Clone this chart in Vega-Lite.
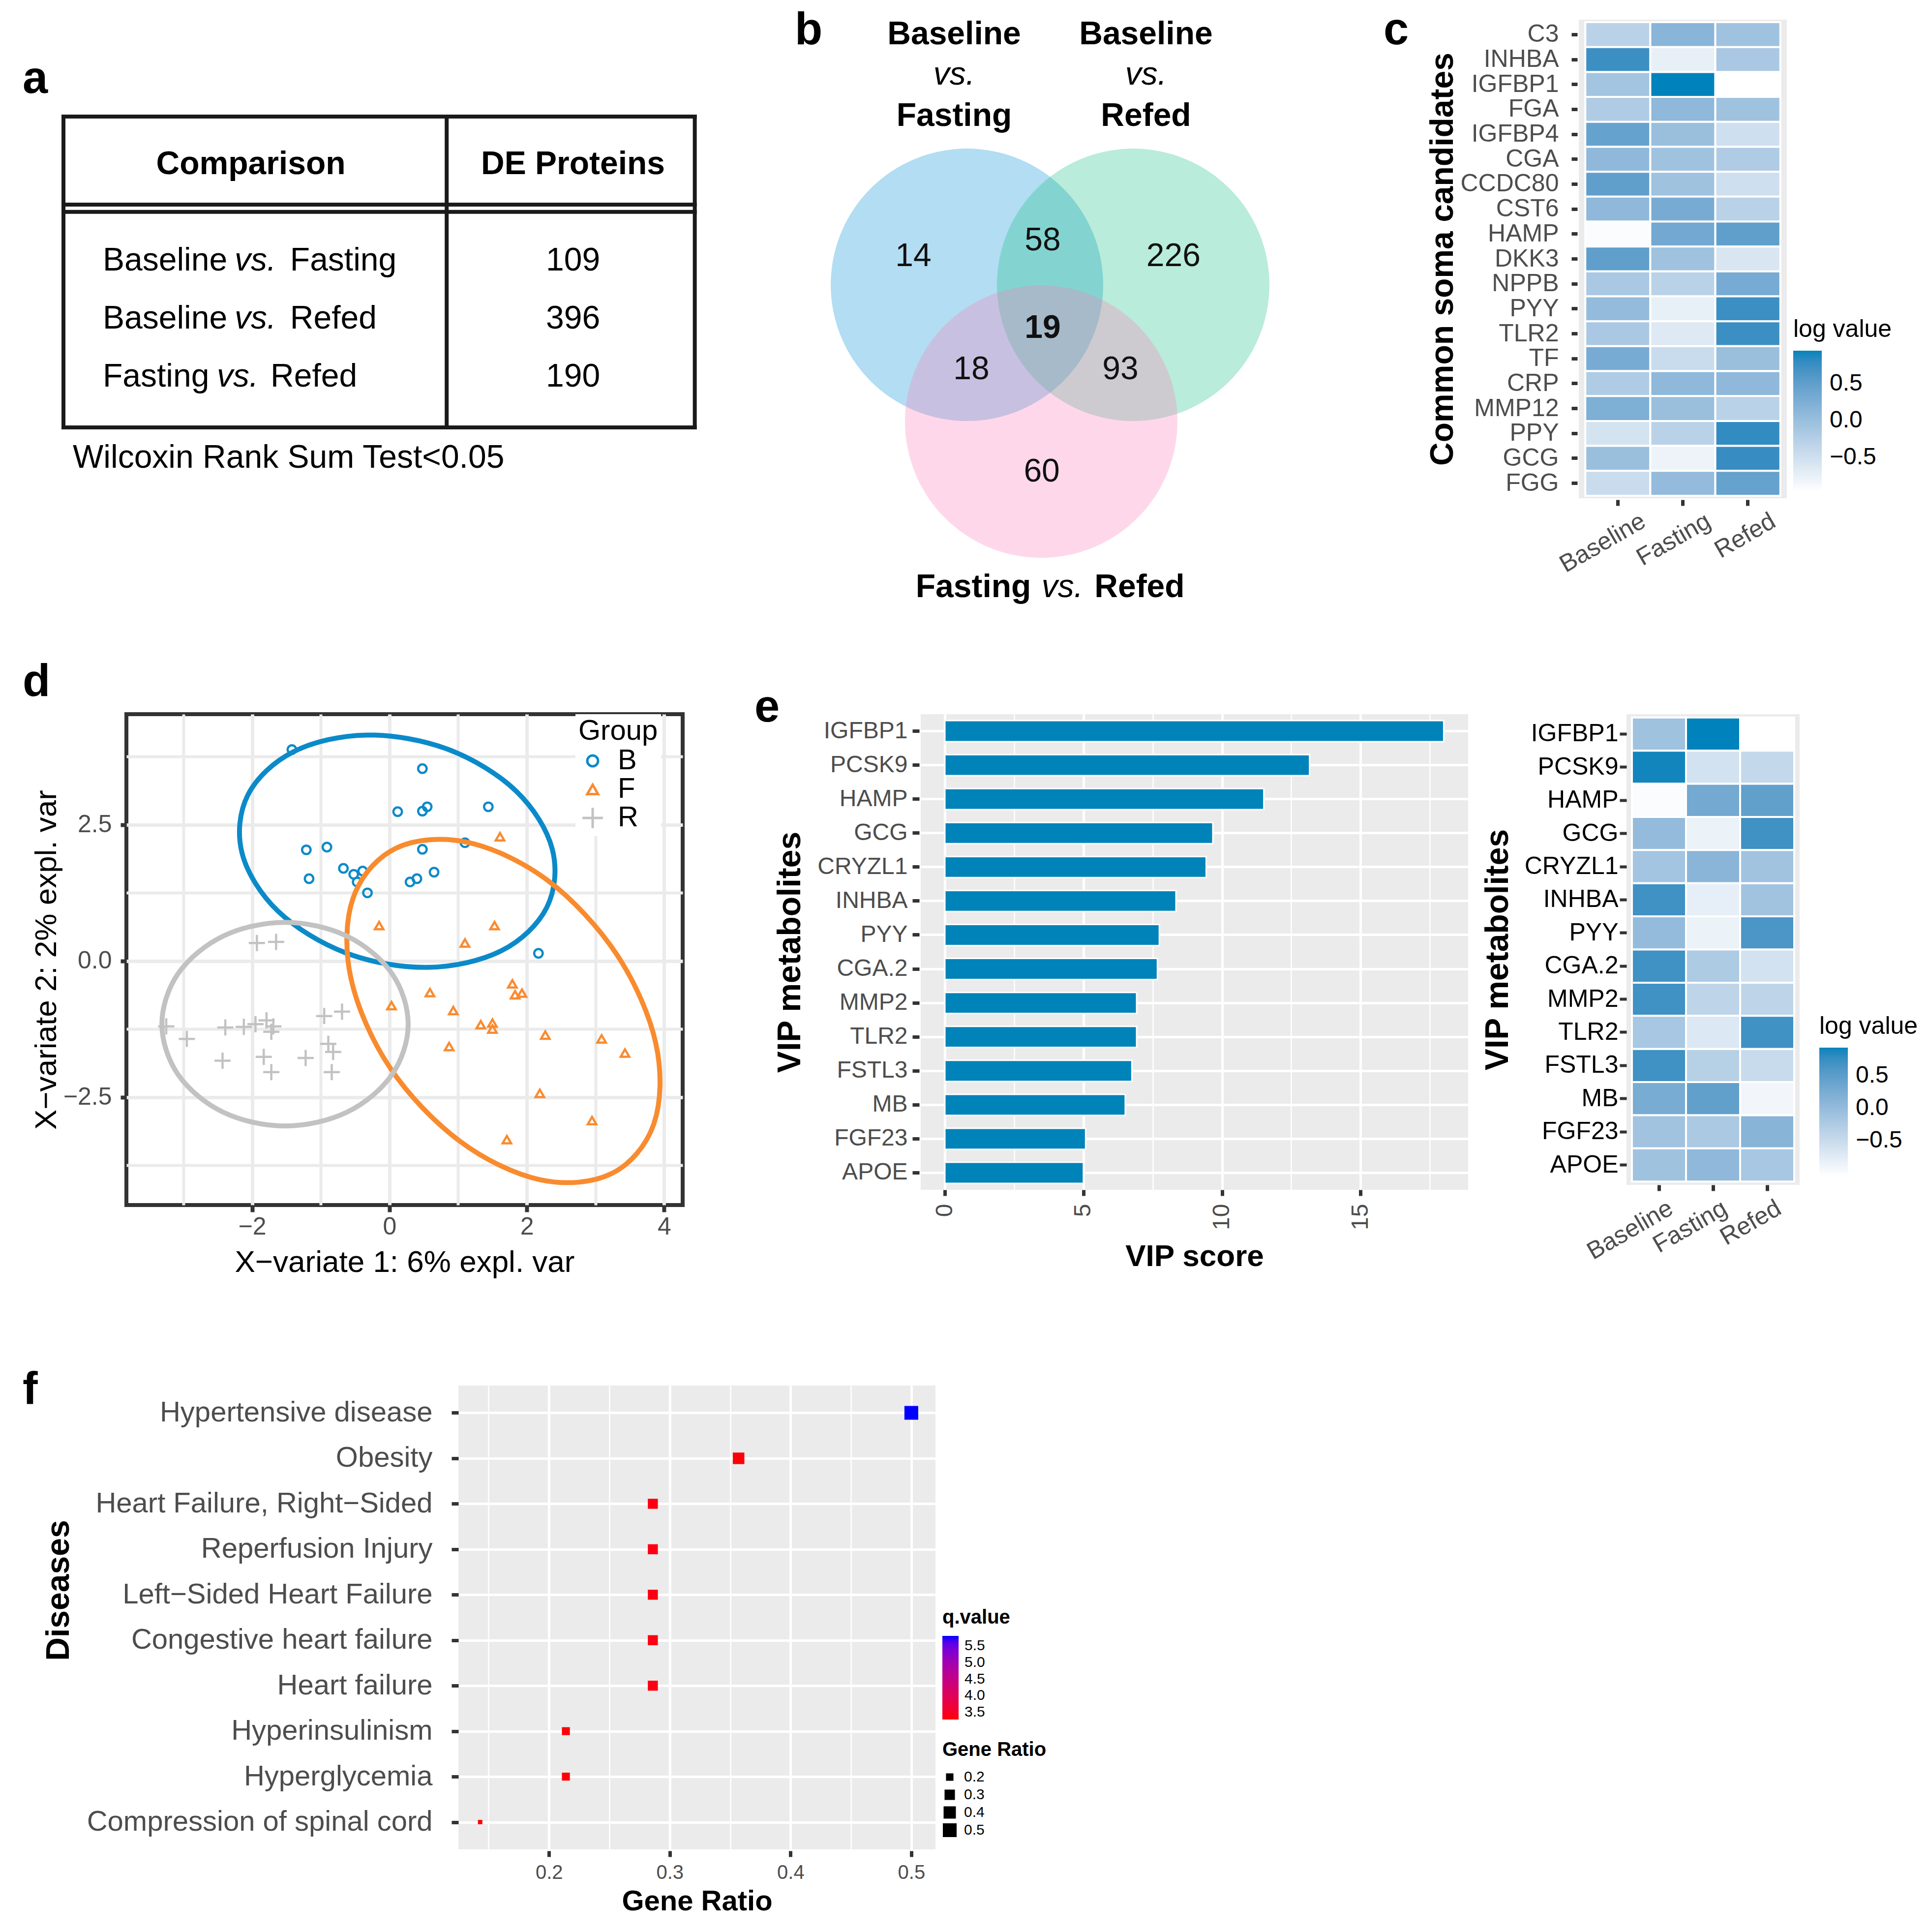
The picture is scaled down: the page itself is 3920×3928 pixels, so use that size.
{
  "$schema": "https://vega.github.io/schema/vega-lite/v6.json",
  "background": "white",
  "padding": {"left": 42, "top": 16, "right": 10, "bottom": 10},
  "config": {
    "font": "Liberation Sans",
    "view": {"stroke": null},
    "axis": {"domain": false, "tickColor": "#333333", "labelColor": "#4D4D4D", "titleColor": "#000000", "grid": false, "labelOverlap": false, "labelFlush": false, "labelLimit": 1000, "titleLimit": 2000},
    "legend": {"labelColor": "#000000", "titleColor": "#000000", "labelLimit": 1000, "titleLimit": 1000},
    "title": {"color": "#000000"}
  },
  "spacing": 179,
  "resolve": {"scale": {"x": "independent", "y": "independent", "color": "independent", "shape": "independent", "size": "independent", "stroke": "independent"}},
  "vconcat": [
    {
      "spacing": 109,
      "resolve": {"scale": {"x": "independent", "y": "independent", "color": "independent", "shape": "independent", "size": "independent", "stroke": "independent"}},
      "vconcat": [
        {
          "spacing": 20,
          "bounds": "flush",
          "resolve": {"scale": {"x": "independent", "y": "independent", "color": "independent", "shape": "independent", "size": "independent", "stroke": "independent"}},
          "hconcat": [
            {
              "width": 1160,
              "height": 973,
              "layer": [
                {
                  "data": {"values": [
                    {"x1": 0, "x2": 100, "y1": -1.483, "y2": -1.483},
                    {"x1": 0, "x2": 100, "y1": 3.873, "y2": 3.873},
                    {"x1": 0, "x2": 0, "y1": -1.483, "y2": 3.873},
                    {"x1": 100, "x2": 100, "y1": -1.483, "y2": 3.873},
                    {"x1": 60.7, "x2": 60.7, "y1": -1.483, "y2": 3.873},
                    {"x1": 0, "x2": 100, "y1": 0.034, "y2": 0.034},
                    {"x1": 0, "x2": 100, "y1": 0.158, "y2": 0.158}
                  ]},
                  "mark": {"type": "rule", "strokeWidth": 8, "color": "#1A1A1A", "strokeCap": "square"},
                  "encoding": {
                    "x": {"field": "x1", "type": "quantitative", "scale": {"domain": [9.97, 100.34], "nice": false, "zero": false}, "axis": null},
                    "x2": {"field": "x2"},
                    "y": {"field": "y1", "type": "quantitative", "scale": {"domain": [-3.153, 5.093], "nice": false, "zero": false, "reverse": true}, "axis": null},
                    "y2": {"field": "y2"}
                  }
                },
                {
                  "data": {"values": [{"h": "Comparison", "hx": 29.68}, {"h": "DE Proteins", "hx": 80.71}]},
                  "mark": {"type": "text", "fontSize": 66, "fontWeight": "bold", "align": "center", "baseline": "middle", "color": "#000000"},
                  "encoding": {
                    "x": {"field": "hx", "type": "quantitative", "scale": {"domain": [9.97, 100.34], "nice": false, "zero": false}, "axis": null},
                    "y": {"datum": -0.661, "type": "quantitative", "scale": {"domain": [-3.153, 5.093], "nice": false, "zero": false, "reverse": true}, "axis": null},
                    "text": {"field": "h"}
                  }
                },
                {
                  "data": {"values": [
                    {"row": 1, "first": "Baseline", "second": "Fasting", "n": 109},
                    {"row": 2, "first": "Baseline", "second": "Refed", "n": 396},
                    {"row": 3, "first": "Fasting", "second": "Refed", "n": 190}
                  ]},
                  "layer": [
                    {
                      "mark": {"type": "text", "fontSize": 66, "align": "left", "baseline": "middle", "color": "#000000"},
                      "encoding": {
                        "x": {"datum": 6.23, "type": "quantitative", "scale": {"domain": [9.97, 100.34], "nice": false, "zero": false}, "axis": null},
                        "y": {"field": "row", "type": "quantitative", "scale": {"domain": [-3.153, 5.093], "nice": false, "zero": false, "reverse": true}, "axis": null},
                        "text": {"field": "first"}
                      }
                    },
                    {
                      "transform": [{"filter": "datum.first === 'Baseline'"}],
                      "mark": {"type": "text", "fontSize": 66, "fontStyle": "italic", "align": "left", "baseline": "middle", "color": "#000000"},
                      "encoding": {
                        "x": {"datum": 27.1, "type": "quantitative", "scale": {"domain": [9.97, 100.34], "nice": false, "zero": false}, "axis": null},
                        "y": {"field": "row", "type": "quantitative", "scale": {"domain": [-3.153, 5.093], "nice": false, "zero": false, "reverse": true}, "axis": null},
                        "text": {"value": "vs."}
                      }
                    },
                    {
                      "transform": [{"filter": "datum.first === 'Baseline'"}],
                      "mark": {"type": "text", "fontSize": 66, "align": "left", "baseline": "middle", "color": "#000000"},
                      "encoding": {
                        "x": {"datum": 35.9, "type": "quantitative", "scale": {"domain": [9.97, 100.34], "nice": false, "zero": false}, "axis": null},
                        "y": {"field": "row", "type": "quantitative", "scale": {"domain": [-3.153, 5.093], "nice": false, "zero": false, "reverse": true}, "axis": null},
                        "text": {"field": "second"}
                      }
                    },
                    {
                      "transform": [{"filter": "datum.first === 'Fasting'"}],
                      "mark": {"type": "text", "fontSize": 66, "fontStyle": "italic", "align": "left", "baseline": "middle", "color": "#000000"},
                      "encoding": {
                        "x": {"datum": 24.3, "type": "quantitative", "scale": {"domain": [9.97, 100.34], "nice": false, "zero": false}, "axis": null},
                        "y": {"field": "row", "type": "quantitative", "scale": {"domain": [-3.153, 5.093], "nice": false, "zero": false, "reverse": true}, "axis": null},
                        "text": {"value": "vs."}
                      }
                    },
                    {
                      "transform": [{"filter": "datum.first === 'Fasting'"}],
                      "mark": {"type": "text", "fontSize": 66, "align": "left", "baseline": "middle", "color": "#000000"},
                      "encoding": {
                        "x": {"datum": 32.8, "type": "quantitative", "scale": {"domain": [9.97, 100.34], "nice": false, "zero": false}, "axis": null},
                        "y": {"field": "row", "type": "quantitative", "scale": {"domain": [-3.153, 5.093], "nice": false, "zero": false, "reverse": true}, "axis": null},
                        "text": {"field": "second"}
                      }
                    },
                    {
                      "mark": {"type": "text", "fontSize": 66, "align": "center", "baseline": "middle", "color": "#000000"},
                      "encoding": {
                        "x": {"datum": 80.71, "type": "quantitative", "scale": {"domain": [9.97, 100.34], "nice": false, "zero": false}, "axis": null},
                        "y": {"field": "row", "type": "quantitative", "scale": {"domain": [-3.153, 5.093], "nice": false, "zero": false, "reverse": true}, "axis": null},
                        "text": {"field": "n"}
                      }
                    }
                  ]
                },
                {
                  "data": {"values": [{"note": "Wilcoxin Rank Sum Test<0.05"}]},
                  "mark": {"type": "text", "fontSize": 66, "align": "left", "baseline": "middle", "color": "#000000"},
                  "encoding": {
                    "x": {"datum": 1.48, "type": "quantitative", "scale": {"domain": [9.97, 100.34], "nice": false, "zero": false}, "axis": null},
                    "y": {"datum": 4.398, "type": "quantitative", "scale": {"domain": [-3.153, 5.093], "nice": false, "zero": false, "reverse": true}, "axis": null},
                    "text": {"field": "note"}
                  }
                },
                {
                  "data": {"values": [{"letter": "a"}]},
                  "mark": {"type": "text", "fontSize": 92, "fontWeight": "bold", "align": "left", "baseline": "alphabetic", "color": "#000000"},
                  "encoding": {
                    "x": {"datum": -6.466, "type": "quantitative", "scale": {"domain": [9.97, 100.34], "nice": false, "zero": false}, "axis": null},
                    "y": {"datum": -1.89, "type": "quantitative", "scale": {"domain": [-3.153, 5.093], "nice": false, "zero": false, "reverse": true}, "axis": null},
                    "text": {"field": "letter"}
                  }
                }
              ]
            },
            {
              "width": 1753,
              "height": 1036,
              "layer": [
                {
                  "data": {"values": [
                    {"set": "Baseline vs. Fasting", "u": 0, "v": 0},
                    {"set": "Baseline vs. Refed", "u": 1.22, "v": 0},
                    {"set": "Fasting vs. Refed", "u": 0.545, "v": -1.004}
                  ]},
                  "mark": {"type": "point", "shape": "circle", "filled": true, "size": 306900, "opacity": 0.3, "strokeWidth": 0},
                  "encoding": {
                    "x": {"field": "u", "type": "quantitative", "scale": {"domain": [-1.91, 4.419], "nice": false, "zero": false}, "axis": null},
                    "y": {"field": "v", "type": "quantitative", "scale": {"domain": [-1.794, 1.946], "nice": false, "zero": false}, "axis": null},
                    "color": {"field": "set", "type": "nominal", "scale": {"domain": ["Baseline vs. Fasting", "Baseline vs. Refed", "Fasting vs. Refed"], "range": ["#008ED4", "#16C084", "#FC7DB9"]}, "legend": null}
                  }
                },
                {
                  "data": {"values": [
                    {"n": 14, "u": -0.394, "v": 0.209},
                    {"n": 58, "u": 0.556, "v": 0.325},
                    {"n": 226, "u": 1.516, "v": 0.209},
                    {"n": 19, "u": 0.556, "v": -0.318},
                    {"n": 18, "u": 0.032, "v": -0.621},
                    {"n": 93, "u": 1.126, "v": -0.621},
                    {"n": 60, "u": 0.549, "v": -1.372}
                  ]},
                  "layer": [
                    {
                      "transform": [{"filter": "datum.n !== 19"}],
                      "mark": {"type": "text", "fontSize": 66, "align": "center", "baseline": "middle", "color": "#111111"},
                      "encoding": {
                        "x": {"field": "u", "type": "quantitative", "scale": {"domain": [-1.91, 4.419], "nice": false, "zero": false}, "axis": null},
                        "y": {"field": "v", "type": "quantitative", "scale": {"domain": [-1.794, 1.946], "nice": false, "zero": false}, "axis": null},
                        "text": {"field": "n"}
                      }
                    },
                    {
                      "transform": [{"filter": "datum.n === 19"}],
                      "mark": {"type": "text", "fontSize": 66, "fontWeight": "bold", "align": "center", "baseline": "middle", "color": "#111111"},
                      "encoding": {
                        "x": {"field": "u", "type": "quantitative", "scale": {"domain": [-1.91, 4.419], "nice": false, "zero": false}, "axis": null},
                        "y": {"field": "v", "type": "quantitative", "scale": {"domain": [-1.794, 1.946], "nice": false, "zero": false}, "axis": null},
                        "text": {"field": "n"}
                      }
                    }
                  ]
                },
                {
                  "data": {"values": [
                    {"t": "Baseline", "u": -0.094, "v": 1.838},
                    {"t": "Fasting", "u": -0.094, "v": 1.238},
                    {"t": "Baseline", "u": 1.314, "v": 1.838},
                    {"t": "Refed", "u": 1.314, "v": 1.238},
                    {"t": "Fasting", "u": 0.047, "v": -2.22},
                    {"t": "Refed", "u": 1.267, "v": -2.22}
                  ]},
                  "mark": {"type": "text", "fontSize": 66, "fontWeight": "bold", "align": "center", "baseline": "middle", "color": "#000000"},
                  "encoding": {
                    "x": {"field": "u", "type": "quantitative", "scale": {"domain": [-1.91, 4.419], "nice": false, "zero": false}, "axis": null},
                    "y": {"field": "v", "type": "quantitative", "scale": {"domain": [-1.794, 1.946], "nice": false, "zero": false}, "axis": null},
                    "text": {"field": "t"}
                  }
                },
                {
                  "data": {"values": [
                    {"t": "vs.", "u": -0.094, "v": 1.542},
                    {"t": "vs.", "u": 1.314, "v": 1.542},
                    {"t": "vs.", "u": 0.7, "v": -2.22}
                  ]},
                  "mark": {"type": "text", "fontSize": 66, "fontStyle": "italic", "align": "center", "baseline": "middle", "color": "#000000"},
                  "encoding": {
                    "x": {"field": "u", "type": "quantitative", "scale": {"domain": [-1.91, 4.419], "nice": false, "zero": false}, "axis": null},
                    "y": {"field": "v", "type": "quantitative", "scale": {"domain": [-1.794, 1.946], "nice": false, "zero": false}, "axis": null},
                    "text": {"field": "t"}
                  }
                },
                {
                  "data": {"values": [{"letter": "b"}]},
                  "mark": {"type": "text", "fontSize": 92, "fontWeight": "bold", "align": "left", "baseline": "alphabetic", "color": "#000000"},
                  "encoding": {
                    "x": {"datum": -1.264, "type": "quantitative", "scale": {"domain": [-1.91, 4.419], "nice": false, "zero": false}, "axis": null},
                    "y": {"datum": 1.765, "type": "quantitative", "scale": {"domain": [-1.794, 1.946], "nice": false, "zero": false}, "axis": null},
                    "text": {"field": "letter"}
                  }
                }
              ]
            },
            {
              "width": 423,
              "height": 973,
              "view": {"fill": "#EBEBEB", "stroke": null},
              "title": {"text": "c", "anchor": "start", "frame": "group", "orient": "top", "fontSize": 92, "fontWeight": "bold", "baseline": "alphabetic", "offset": 0, "dx": -397, "dy": 142},
              "data": {"values": [
                {"gene": "C3", "Baseline": -0.3, "Fasting": 0.15, "Refed": -0.05},
                {"gene": "INHBA", "Baseline": 0.75, "Fasting": -0.75, "Refed": -0.15},
                {"gene": "IGFBP1", "Baseline": -0.1, "Fasting": 0.95, "Refed": -0.97},
                {"gene": "FGA", "Baseline": -0.2, "Fasting": 0.1, "Refed": -0.05},
                {"gene": "IGFBP4", "Baseline": 0.45, "Fasting": 0.0, "Refed": -0.5},
                {"gene": "CGA", "Baseline": 0.1, "Fasting": -0.05, "Refed": -0.2},
                {"gene": "CCDC80", "Baseline": 0.5, "Fasting": -0.05, "Refed": -0.5},
                {"gene": "CST6", "Baseline": 0.1, "Fasting": 0.3, "Refed": -0.3},
                {"gene": "HAMP", "Baseline": -0.92, "Fasting": 0.35, "Refed": 0.5},
                {"gene": "DKK3", "Baseline": 0.5, "Fasting": -0.05, "Refed": -0.6},
                {"gene": "NPPB", "Baseline": -0.15, "Fasting": -0.3, "Refed": 0.3},
                {"gene": "PYY", "Baseline": 0.05, "Fasting": -0.75, "Refed": 0.75},
                {"gene": "TLR2", "Baseline": -0.15, "Fasting": -0.65, "Refed": 0.75},
                {"gene": "TF", "Baseline": 0.3, "Fasting": -0.45, "Refed": 0.0},
                {"gene": "CRP", "Baseline": -0.2, "Fasting": 0.1, "Refed": 0.1},
                {"gene": "MMP12", "Baseline": 0.25, "Fasting": 0.0, "Refed": -0.3},
                {"gene": "PPY", "Baseline": -0.55, "Fasting": -0.3, "Refed": 0.8},
                {"gene": "GCG", "Baseline": 0.0, "Fasting": -0.8, "Refed": 0.78},
                {"gene": "FGG", "Baseline": -0.45, "Fasting": 0.05, "Refed": 0.45}
              ]},
              "transform": [{"fold": ["Baseline", "Fasting", "Refed"], "as": ["group", "value"]}],
              "mark": {"type": "rect", "stroke": "white", "strokeWidth": 4},
              "encoding": {
                "x": {"field": "group", "type": "nominal", "sort": ["Baseline", "Fasting", "Refed"], "scale": {"paddingInner": 0, "paddingOuter": 0.1},
                  "axis": {"title": null, "labelAngle": -30, "labelAlign": "right", "labelBaseline": "top", "labelFontSize": 50, "labelPadding": 6, "labelOffset": 40, "tickSize": 12, "tickWidth": 7, "offset": 3}},
                "y": {"field": "gene", "type": "nominal", "sort": ["C3", "INHBA", "IGFBP1", "FGA", "IGFBP4", "CGA", "CCDC80", "CST6", "HAMP", "DKK3", "NPPB", "PYY", "TLR2", "TF", "CRP", "MMP12", "PPY", "GCG", "FGG"], "scale": {"paddingInner": 0, "paddingOuter": 0.1},
                  "axis": {"title": "Common soma candidates", "titleFontSize": 66, "titleFontWeight": "bold", "titlePadding": 40, "labelFontSize": 50, "labelPadding": 26, "tickSize": 12, "tickWidth": 7, "offset": 3}},
                "color": {"field": "value", "type": "quantitative", "scale": {"domain": [-0.97, 0.95], "range": ["#FFFFFF", "#0083BC"], "interpolate": "lab"},
                  "legend": {"title": "log value", "orient": "none", "legendX": 436, "legendY": 605, "direction": "vertical", "gradientLength": 287, "gradientThickness": 58, "values": [-0.5, 0, 0.5], "format": ".1f", "labelFontSize": 48, "titleFontSize": 50, "titleFontWeight": "normal", "titlePadding": 18, "labelOffset": 16, "gradientStrokeWidth": 0}}
              }
            }
          ]
        },
        {
          "spacing": 484,
          "bounds": "flush",
          "resolve": {"scale": {"x": "independent", "y": "independent", "color": "independent", "shape": "independent", "size": "independent", "stroke": "independent"}},
          "hconcat": [
            {
              "width": 1131,
              "height": 998,
              "view": {"fill": "white", "stroke": "#333333", "strokeWidth": 8},
              "title": {"text": "d", "anchor": "start", "frame": "group", "orient": "top", "fontSize": 92, "fontWeight": "bold", "baseline": "alphabetic", "offset": 0, "dx": -211, "dy": 55},
              "encoding": {
                "x": {"field": "comp1", "type": "quantitative", "scale": {"domain": [-3.83, 4.27], "nice": false, "zero": false},
                  "axis": {"title": "X−variate 1: 6% expl. var", "values": [-3, -2, -1, 0, 1, 2, 3, 4], "labelExpr": "datum.value % 2 === 0 ? datum.label : ''", "grid": true, "gridColor": "#EBEBEB", "gridWidth": {"condition": {"test": "datum.value % 2 !== 0", "value": 6}, "value": 7}, "tickColor": {"condition": {"test": "datum.value % 2 !== 0", "value": "transparent"}, "value": "#333333"}, "tickSize": 14, "tickWidth": 8, "labelFontSize": 50, "labelPadding": 5, "titleFontSize": 62, "titleFontWeight": "normal", "titlePadding": 17}},
                "y": {"field": "comp2", "type": "quantitative", "scale": {"domain": [-4.48, 4.53], "nice": false, "zero": false},
                  "axis": {"title": "X−variate 2: 2% expl. var", "values": [-3.75, -2.5, -1.25, 0, 1.25, 2.5, 3.75], "format": ".1f", "labelExpr": "abs(datum.value % 2.5) < 0.01 ? datum.label : ''", "grid": true, "gridColor": "#EBEBEB", "gridWidth": {"condition": {"test": "abs(datum.value % 2.5) > 0.01", "value": 6}, "value": 7}, "tickColor": {"condition": {"test": "abs(datum.value % 2.5) > 0.01", "value": "transparent"}, "value": "#333333"}, "tickSize": 12, "tickWidth": 8, "labelFontSize": 50, "labelPadding": 18, "titleFontSize": 62, "titleFontWeight": "normal", "titlePadding": 2}},
                "color": {"field": "group", "type": "nominal", "scale": {"domain": ["B", "F", "R"], "range": ["#0B8AC9", "#F98B2F", "#C2C2C2"]},
                  "legend": {"title": "Group", "orient": "none", "legendX": 913, "legendY": 0, "fillColor": "white", "padding": 6, "titleFontSize": 58, "titleFontWeight": "normal", "labelFontSize": 58, "symbolSize": 480, "symbolStrokeWidth": 5, "rowPadding": -2, "titlePadding": 2, "labelOffset": 22}}
              },
              "layer": [
                {
                  "data": {"values": [
                    {"group": "B", "comp1": -1.42, "comp2": 3.88}, {"group": "B", "comp1": 0.48, "comp2": 3.53}, {"group": "B", "comp1": 0.12, "comp2": 2.74}, {"group": "B", "comp1": 0.48, "comp2": 2.75}, {"group": "B", "comp1": 0.55, "comp2": 2.83}, {"group": "B", "comp1": 1.44, "comp2": 2.83}, {"group": "B", "comp1": -1.21, "comp2": 2.04}, {"group": "B", "comp1": -0.91, "comp2": 2.09}, {"group": "B", "comp1": 0.48, "comp2": 2.05}, {"group": "B", "comp1": 1.1, "comp2": 2.17}, {"group": "B", "comp1": -1.17, "comp2": 1.51}, {"group": "B", "comp1": -0.67, "comp2": 1.7}, {"group": "B", "comp1": -0.52, "comp2": 1.59}, {"group": "B", "comp1": -0.39, "comp2": 1.65}, {"group": "B", "comp1": -0.47, "comp2": 1.45}, {"group": "B", "comp1": -0.32, "comp2": 1.25}, {"group": "B", "comp1": 0.3, "comp2": 1.45}, {"group": "B", "comp1": 0.4, "comp2": 1.51}, {"group": "B", "comp1": 0.65, "comp2": 1.63}, {"group": "B", "comp1": 2.17, "comp2": 0.14},
                    {"group": "F", "comp1": 1.61, "comp2": 2.28}, {"group": "F", "comp1": -0.15, "comp2": 0.65}, {"group": "F", "comp1": 1.53, "comp2": 0.65}, {"group": "F", "comp1": 1.1, "comp2": 0.33}, {"group": "F", "comp1": 0.59, "comp2": -0.58}, {"group": "F", "comp1": 0.03, "comp2": -0.82}, {"group": "F", "comp1": 0.93, "comp2": -0.91}, {"group": "F", "comp1": 1.79, "comp2": -0.42}, {"group": "F", "comp1": 1.83, "comp2": -0.62}, {"group": "F", "comp1": 1.93, "comp2": -0.59}, {"group": "F", "comp1": 1.33, "comp2": -1.17}, {"group": "F", "comp1": 1.5, "comp2": -1.14}, {"group": "F", "comp1": 1.5, "comp2": -1.25}, {"group": "F", "comp1": 2.27, "comp2": -1.36}, {"group": "F", "comp1": 3.09, "comp2": -1.43}, {"group": "F", "comp1": 0.87, "comp2": -1.57}, {"group": "F", "comp1": 3.43, "comp2": -1.69}, {"group": "F", "comp1": 2.19, "comp2": -2.43}, {"group": "F", "comp1": 2.95, "comp2": -2.93}, {"group": "F", "comp1": 1.71, "comp2": -3.28},
                    {"group": "R", "comp1": -1.93, "comp2": 0.33}, {"group": "R", "comp1": -1.65, "comp2": 0.35}, {"group": "R", "comp1": -3.25, "comp2": -1.2}, {"group": "R", "comp1": -2.95, "comp2": -1.43}, {"group": "R", "comp1": -2.39, "comp2": -1.22}, {"group": "R", "comp1": -2.12, "comp2": -1.21}, {"group": "R", "comp1": -1.95, "comp2": -1.16}, {"group": "R", "comp1": -1.79, "comp2": -1.09}, {"group": "R", "comp1": -1.69, "comp2": -1.2}, {"group": "R", "comp1": -1.72, "comp2": -1.3}, {"group": "R", "comp1": -0.95, "comp2": -1.01}, {"group": "R", "comp1": -0.69, "comp2": -0.93}, {"group": "R", "comp1": -2.43, "comp2": -1.83}, {"group": "R", "comp1": -1.83, "comp2": -1.76}, {"group": "R", "comp1": -1.72, "comp2": -2.04}, {"group": "R", "comp1": -1.22, "comp2": -1.78}, {"group": "R", "comp1": -0.89, "comp2": -1.52}, {"group": "R", "comp1": -0.82, "comp2": -1.67}, {"group": "R", "comp1": -0.84, "comp2": -2.04}
                  ]},
                  "mark": {"type": "point", "filled": false, "strokeWidth": 4.5, "opacity": 1, "size": 300},
                  "encoding": {
                    "shape": {"field": "group", "type": "nominal", "scale": {"domain": ["B", "F", "R"], "range": ["circle", "triangle-up", "M-1.9,0L1.9,0M0,-1.9L0,1.9"]},
                      "legend": {"title": "Group", "orient": "none", "legendX": 913, "legendY": 0, "fillColor": "white", "padding": 6, "titleFontSize": 58, "titleFontWeight": "normal", "labelFontSize": 58, "symbolSize": 480, "symbolStrokeWidth": 5, "rowPadding": -2, "titlePadding": 2, "labelOffset": 22}}
                  }
                },
                {
                  "data": {"values": [
                    {"group": "B", "k": 0, "comp1": 2.291, "comp2": 0.982}, {"group": "B", "k": 1, "comp1": 1.629, "comp2": 0.187}, {"group": "B", "k": 2, "comp1": 0.551, "comp2": -0.118}, {"group": "B", "k": 3, "comp1": -0.637, "comp2": 0.149}, {"group": "B", "k": 4, "comp1": -1.623, "comp2": 0.915}, {"group": "B", "k": 5, "comp1": -2.145, "comp2": 1.976}, {"group": "B", "k": 6, "comp1": -2.061, "comp2": 3.047}, {"group": "B", "k": 7, "comp1": -1.395, "comp2": 3.842}, {"group": "B", "k": 8, "comp1": -0.325, "comp2": 4.147}, {"group": "B", "k": 9, "comp1": 0.863, "comp2": 3.88}, {"group": "B", "k": 10, "comp1": 1.848, "comp2": 3.114}, {"group": "B", "k": 11, "comp1": 2.371, "comp2": 2.055},
                    {"group": "F", "k": 0, "comp1": 3.234, "comp2": -3.903}, {"group": "F", "k": 1, "comp1": 2.196, "comp2": -4.016}, {"group": "F", "k": 2, "comp1": 1.021, "comp2": -3.304}, {"group": "F", "k": 3, "comp1": 0.005, "comp2": -1.952}, {"group": "F", "k": 4, "comp1": -0.56, "comp2": -0.322}, {"group": "F", "k": 5, "comp1": -0.531, "comp2": 1.147}, {"group": "F", "k": 6, "comp1": 0.086, "comp2": 2.064}, {"group": "F", "k": 7, "comp1": 1.131, "comp2": 2.179}, {"group": "F", "k": 8, "comp1": 2.305, "comp2": 1.478}, {"group": "F", "k": 9, "comp1": 3.315, "comp2": 0.11}, {"group": "F", "k": 10, "comp1": 3.88, "comp2": -1.519}, {"group": "F", "k": 11, "comp1": 3.851, "comp2": -2.988},
                    {"group": "R", "k": 0, "comp1": 0.273, "comp2": -1.159}, {"group": "R", "k": 1, "comp1": 0.033, "comp2": -2.094}, {"group": "R", "k": 2, "comp1": -0.623, "comp2": -2.778}, {"group": "R", "k": 3, "comp1": -1.52, "comp2": -3.029}, {"group": "R", "k": 4, "comp1": -2.417, "comp2": -2.778}, {"group": "R", "k": 5, "comp1": -3.073, "comp2": -2.094}, {"group": "R", "k": 6, "comp1": -3.313, "comp2": -1.159}, {"group": "R", "k": 7, "comp1": -3.073, "comp2": -0.225}, {"group": "R", "k": 8, "comp1": -2.417, "comp2": 0.459}, {"group": "R", "k": 9, "comp1": -1.52, "comp2": 0.71}, {"group": "R", "k": 10, "comp1": -0.623, "comp2": 0.459}, {"group": "R", "k": 11, "comp1": 0.033, "comp2": -0.225}
                  ]},
                  "mark": {"type": "line", "strokeWidth": 10, "interpolate": "cardinal-closed"},
                  "encoding": {
                    "order": {"field": "k", "type": "quantitative"}
                  }
                }
              ]
            },
            {
              "spacing": 322,
              "bounds": "flush",
              "resolve": {"scale": {"x": "independent", "y": "independent", "color": "independent", "shape": "independent", "size": "independent", "stroke": "independent"}},
              "hconcat": [
                {
                  "width": 1113,
                  "height": 967,
                  "view": {"fill": "#EBEBEB", "stroke": null},
                  "title": {"text": "e", "anchor": "start", "frame": "group", "orient": "top", "fontSize": 92, "fontWeight": "bold", "baseline": "alphabetic", "offset": 0, "dx": -338, "dy": 107},
                  "data": {"values": [
                    {"metabolite": "IGFBP1", "vip": 18.0},
                    {"metabolite": "PCSK9", "vip": 13.16},
                    {"metabolite": "HAMP", "vip": 11.51},
                    {"metabolite": "GCG", "vip": 9.67},
                    {"metabolite": "CRYZL1", "vip": 9.43},
                    {"metabolite": "INHBA", "vip": 8.34},
                    {"metabolite": "PYY", "vip": 7.74},
                    {"metabolite": "CGA.2", "vip": 7.67},
                    {"metabolite": "MMP2", "vip": 6.92},
                    {"metabolite": "TLR2", "vip": 6.92},
                    {"metabolite": "FSTL3", "vip": 6.75},
                    {"metabolite": "MB", "vip": 6.51},
                    {"metabolite": "FGF23", "vip": 5.08},
                    {"metabolite": "APOE", "vip": 5.0}
                  ]},
                  "mark": {"type": "bar", "color": "#0083B9", "stroke": "white", "strokeWidth": 3},
                  "encoding": {
                    "y": {"field": "metabolite", "type": "nominal", "sort": ["IGFBP1", "PCSK9", "HAMP", "GCG", "CRYZL1", "INHBA", "PYY", "CGA.2", "MMP2", "TLR2", "FSTL3", "MB", "FGF23", "APOE"], "scale": {"paddingInner": 0.38, "paddingOuter": 0.19},
                      "axis": {"title": "VIP metabolites", "titleFontSize": 66, "titleFontWeight": "bold", "titlePadding": 29, "labelFontSize": 48, "labelPadding": 10, "tickSize": 14, "tickWidth": 7, "offset": 3, "grid": true, "gridColor": "white", "gridWidth": 5}},
                    "x": {"field": "vip", "type": "quantitative", "scale": {"domain": [-0.87, 18.88], "nice": false, "zero": false},
                      "axis": {"title": "VIP score", "titleFontSize": 62, "titleFontWeight": "bold", "titlePadding": 24, "values": [0, 2.5, 5, 7.5, 10, 12.5, 15, 17.5], "labelExpr": "datum.value % 5 === 0 ? datum.label : ''", "labelAngle": -90, "labelAlign": "right", "labelBaseline": "middle", "labelFontSize": 48, "labelPadding": 16, "tickSize": 12, "tickWidth": 7, "tickColor": {"condition": {"test": "datum.value % 5 !== 0", "value": "transparent"}, "value": "#333333"}, "grid": true, "gridColor": "white", "gridWidth": {"condition": {"test": "datum.value % 5 !== 0", "value": 2.5}, "value": 5}}},
                    "x2": {"datum": 0}
                  }
                },
                {
                  "width": 352,
                  "height": 957,
                  "view": {"fill": "#EBEBEB", "stroke": null},
                  "data": {"values": [
                    {"gene": "IGFBP1", "Baseline": -0.1, "Fasting": 0.93, "Refed": -1.05},
                    {"gene": "PCSK9", "Baseline": 0.9, "Fasting": -0.6, "Refed": -0.45},
                    {"gene": "HAMP", "Baseline": -1.0, "Fasting": 0.3, "Refed": 0.45},
                    {"gene": "GCG", "Baseline": 0.0, "Fasting": -0.85, "Refed": 0.7},
                    {"gene": "CRYZL1", "Baseline": -0.15, "Fasting": 0.1, "Refed": -0.12},
                    {"gene": "INHBA", "Baseline": 0.7, "Fasting": -0.8, "Refed": -0.12},
                    {"gene": "PYY", "Baseline": 0.0, "Fasting": -0.85, "Refed": 0.62},
                    {"gene": "CGA.2", "Baseline": 0.7, "Fasting": -0.25, "Refed": -0.6},
                    {"gene": "MMP2", "Baseline": 0.7, "Fasting": -0.4, "Refed": -0.4},
                    {"gene": "TLR2", "Baseline": -0.18, "Fasting": -0.7, "Refed": 0.7},
                    {"gene": "FSTL3", "Baseline": 0.7, "Fasting": -0.32, "Refed": -0.5},
                    {"gene": "MB", "Baseline": 0.25, "Fasting": 0.45, "Refed": -0.92},
                    {"gene": "FGF23", "Baseline": -0.12, "Fasting": -0.22, "Refed": 0.12},
                    {"gene": "APOE", "Baseline": -0.1, "Fasting": 0.05, "Refed": -0.18}
                  ]},
                  "transform": [{"fold": ["Baseline", "Fasting", "Refed"], "as": ["group", "value"]}],
                  "mark": {"type": "rect", "stroke": "white", "strokeWidth": 4},
                  "encoding": {
                    "x": {"field": "group", "type": "nominal", "sort": ["Baseline", "Fasting", "Refed"], "scale": {"paddingInner": 0, "paddingOuter": 0.1},
                      "axis": {"title": null, "labelAngle": -30, "labelAlign": "right", "labelBaseline": "top", "labelFontSize": 50, "labelPadding": 10, "labelOffset": 12, "tickSize": 12, "tickWidth": 7, "offset": 0}},
                    "y": {"field": "gene", "type": "nominal", "sort": ["IGFBP1", "PCSK9", "HAMP", "GCG", "CRYZL1", "INHBA", "PYY", "CGA.2", "MMP2", "TLR2", "FSTL3", "MB", "FGF23", "APOE"], "scale": {"paddingInner": 0, "paddingOuter": 0.1},
                      "axis": {"title": "VIP metabolites", "titleFontSize": 66, "titleFontWeight": "bold", "titlePadding": 28, "labelFontSize": 50, "labelColor": "#000000", "labelPadding": 3, "tickSize": 14, "tickWidth": 6, "offset": 0}},
                    "color": {"field": "value", "type": "quantitative", "scale": {"domain": [-1.05, 0.93], "range": ["#FFFFFF", "#0083BC"], "interpolate": "lab"},
                      "legend": {"title": "log value", "orient": "none", "legendX": 392, "legendY": 610, "direction": "vertical", "gradientLength": 262, "gradientThickness": 58, "values": [-0.5, 0, 0.5], "format": ".1f", "labelFontSize": 48, "titleFontSize": 50, "titleFontWeight": "normal", "titlePadding": 18, "labelOffset": 16, "gradientStrokeWidth": 0}}
                  }
                }
              ]
            }
          ]
        }
      ]
    },
    {
      "spacing": 20,
      "bounds": "flush",
      "resolve": {"scale": {"x": "independent", "y": "independent", "color": "independent", "shape": "independent", "size": "independent", "stroke": "independent"}},
      "hconcat": [
        {"width": 655, "height": 10, "data": {"values": [{}]}, "mark": {"type": "text"}, "encoding": {}},
        {
          "width": 970,
          "height": 943,
          "view": {"fill": "#EBEBEB", "stroke": null},
          "title": {"text": "f", "anchor": "start", "frame": "group", "orient": "top", "fontSize": 92, "fontWeight": "bold", "baseline": "alphabetic", "offset": 0, "dx": -886, "dy": 129},
          "data": {"values": [
            {"disease": "Hypertensive disease", "ratio": 0.5, "q": 5.8},
            {"disease": "Obesity", "ratio": 0.357, "q": 3.3},
            {"disease": "Heart Failure, Right−Sided", "ratio": 0.286, "q": 3.35},
            {"disease": "Reperfusion Injury", "ratio": 0.286, "q": 3.35},
            {"disease": "Left−Sided Heart Failure", "ratio": 0.286, "q": 3.35},
            {"disease": "Congestive heart failure", "ratio": 0.286, "q": 3.35},
            {"disease": "Heart failure", "ratio": 0.286, "q": 3.35},
            {"disease": "Hyperinsulinism", "ratio": 0.214, "q": 3.3},
            {"disease": "Hyperglycemia", "ratio": 0.214, "q": 3.3},
            {"disease": "Compression of spinal cord", "ratio": 0.143, "q": 3.28}
          ]},
          "mark": {"type": "point", "shape": "square", "filled": true, "opacity": 1},
          "encoding": {
            "y": {"field": "disease", "type": "nominal", "sort": ["Hypertensive disease", "Obesity", "Heart Failure, Right−Sided", "Reperfusion Injury", "Left−Sided Heart Failure", "Congestive heart failure", "Heart failure", "Hyperinsulinism", "Hyperglycemia", "Compression of spinal cord"], "scale": {"type": "point", "padding": 0.6},
              "axis": {"title": "Diseases", "titleFontSize": 66, "titleFontWeight": "bold", "titleX": -779, "titleY": 416, "titleAlign": "center", "titleBaseline": "bottom", "titleAngle": 270, "labelFontSize": 58, "labelPadding": 39, "labelLimit": 1000, "tickSize": 14, "tickWidth": 7, "offset": 0, "grid": true, "gridColor": "white", "gridWidth": 5}},
            "x": {"field": "ratio", "type": "quantitative", "scale": {"domain": [0.125, 0.52], "nice": false, "zero": false},
              "axis": {"title": "Gene Ratio", "titleFontSize": 58, "titleFontWeight": "bold", "titlePadding": 10, "values": [0.15, 0.2, 0.25, 0.3, 0.35, 0.4, 0.45, 0.5], "format": ".1f", "labelExpr": "round(datum.value * 100) % 10 === 0 ? datum.label : ''", "labelFontSize": 40, "labelPadding": 12, "tickSize": 12, "tickWidth": 7, "offset": 3, "tickColor": {"condition": {"test": "round(datum.value * 100) % 10 !== 0", "value": "transparent"}, "value": "#333333"}, "grid": true, "gridColor": "white", "gridWidth": {"condition": {"test": "round(datum.value * 100) % 10 !== 0", "value": 2.5}, "value": 5}}},
            "color": {"field": "q", "type": "quantitative", "scale": {"domain": [3.28, 5.8], "range": ["#FF0000", "#0000FF"], "interpolate": "lab"},
              "legend": {"title": "q.value", "orient": "none", "legendX": 984, "legendY": 452, "direction": "vertical", "gradientLength": 170, "gradientThickness": 33, "values": [3.5, 4, 4.5, 5, 5.5], "format": ".1f", "labelFontSize": 30, "titleFontSize": 40, "titleFontWeight": "bold", "titlePadding": 17, "labelOffset": 12, "gradientStrokeWidth": 0}},
            "size": {"field": "ratio", "type": "quantitative", "scale": {"type": "sqrt", "domain": [0.143, 0.5], "range": [81, 784], "zero": false},
              "legend": {"title": "Gene Ratio", "orient": "none", "legendX": 984, "legendY": 721, "values": [0.2, 0.3, 0.4, 0.5], "format": ".1f", "symbolType": "square", "symbolFillColor": "#000000", "symbolStrokeWidth": 0, "labelFontSize": 30, "titleFontSize": 40, "titleFontWeight": "bold", "rowPadding": 6, "titlePadding": 20, "labelOffset": 14}}
          }
        }
      ]
    }
  ]
}
